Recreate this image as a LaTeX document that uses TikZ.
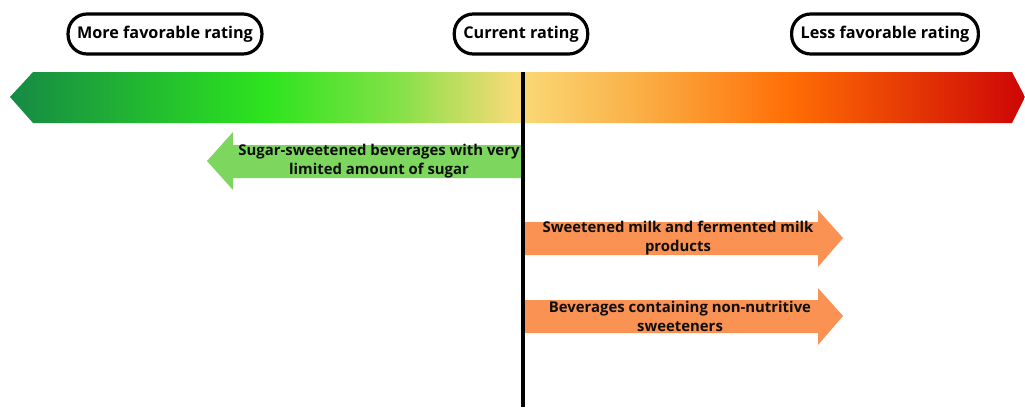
\documentclass[tikz,border=0pt]{standalone}
\usepackage{fontspec}
\setmainfont{Open Sans}
\definecolor{dkgreen}{RGB}{22,138,69}
\definecolor{brgreen}{RGB}{45,228,30}
\definecolor{ltgreen}{RGB}{130,225,70}
\definecolor{paleyellow}{RGB}{250,218,120}
\definecolor{ltorange}{RGB}{250,175,70}
\definecolor{vivorange}{RGB}{255,110,5}
\definecolor{dkred}{RGB}{205,5,5}
\definecolor{arrowgreen}{RGB}{125,215,95}
\definecolor{arroworange}{RGB}{249,146,82}
\definecolor{inkblack}{RGB}{15,15,15}
\pgfdeclarehorizontalshading{ratingbar}{100bp}{%
  color(0bp)=(dkgreen); color(25bp)=(dkgreen); color(37.6bp)=(brgreen);
  color(44bp)=(ltgreen); color(50bp)=(paleyellow); color(56bp)=(ltorange);
  color(63.4bp)=(vivorange); color(75bp)=(dkred); color(100bp)=(dkred)}
\tikzset{
  pill/.style={draw=black, line width=3.2pt, rounded corners=19pt, fill=white,
    minimum height=40pt, inner xsep=9pt, font=\fontsize{16.2}{18}\selectfont\bfseries},
  arrowtext/.style={align=center, text=inkblack, font=\fontsize{14.9}{19}\selectfont\bfseries}
}

\begin{document}
\begin{tikzpicture}[x=1pt, y=-1pt]
  \useasboundingbox (0,0) rectangle (1025,407);

  % the rating scale
  \shade[shading=ratingbar] (10,97) -- (33,72) -- (1012,72) -- (1025,97)
    -- (1012,123) -- (33,123) -- cycle;

  \node[pill] (more) at (165,34) {More favorable rating};
  \node[pill] (curr) at (521,34) {Current rating};
  \node[pill] (less) at (885,34) {Less favorable rating};

  % shifts
  \fill[arrowgreen] (523,145) -- (233,145) -- (233,132) -- (207,161)
    -- (233,190) -- (233,178) -- (523,178) -- cycle;
  \fill[arroworange] (523,222) -- (818,222) -- (818,210) -- (843,238)
    -- (818,267) -- (818,255) -- (523,255) -- cycle;
  \fill[arroworange] (523,300) -- (818,300) -- (818,288) -- (843,316)
    -- (818,345) -- (818,333) -- (523,333) -- cycle;

  \node[arrowtext] (ssb) at (379,161) {Sugar-sweetened beverages with very\\limited amount of sugar};
  \node[arrowtext] (milk) at (678,238) {Sweetened milk and fermented milk\\products};
  \node[arrowtext] (nns) at (680,316) {Beverages containing non-nutritive\\sweeteners};

  \coordinate (top) at (523,72);
  \coordinate (bottom) at (523,407);
  \draw[line width=3.3pt] (top) -- (bottom);
\end{tikzpicture}
\end{document}
